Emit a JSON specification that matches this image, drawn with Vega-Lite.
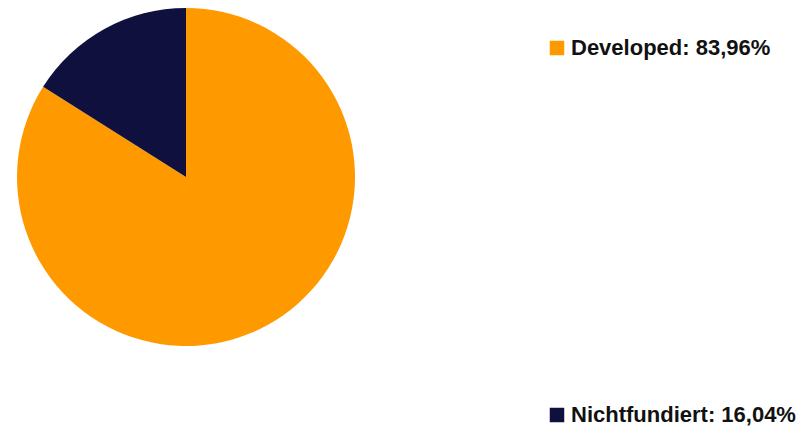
{
  "$schema": "https://vega.github.io/schema/vega-lite/v6.json",
  "autosize": {"type": "none"},
  "padding": {"left": 0, "top": 0, "right": 437, "bottom": 76},
  "width": 372,
  "height": 354,
  "background": "white",
  "data": {"values": [
    {"category": "Developed: 83,96%", "value": 83.96},
    {"category": "Nichtfundiert: 16,04%", "value": 16.04}
  ]},
  "mark": {"type": "arc", "outerRadius": 169},
  "encoding": {
    "theta": {"field": "value", "type": "quantitative", "stack": true},
    "color": {
      "field": "category",
      "type": "nominal",
      "scale": {"domain": ["Developed: 83,96%", "Nichtfundiert: 16,04%"], "range": ["#FF9900", "#10103F"]},
      "legend": {
        "title": null,
        "orient": "none",
        "legendX": 546,
        "legendY": 37,
        "symbolType": "square",
        "symbolSize": 210,
        "symbolStrokeWidth": 0,
        "labelFont": "Liberation Sans",
        "labelFontWeight": "bold",
        "labelFontSize": 22,
        "labelColor": "#111111",
        "labelOffset": 3,
        "rowPadding": 345,
        "labelLimit": 400
      }
    },
    "order": {"field": "category", "sort": "ascending"}
  },
  "config": {"view": {"stroke": null}}
}
